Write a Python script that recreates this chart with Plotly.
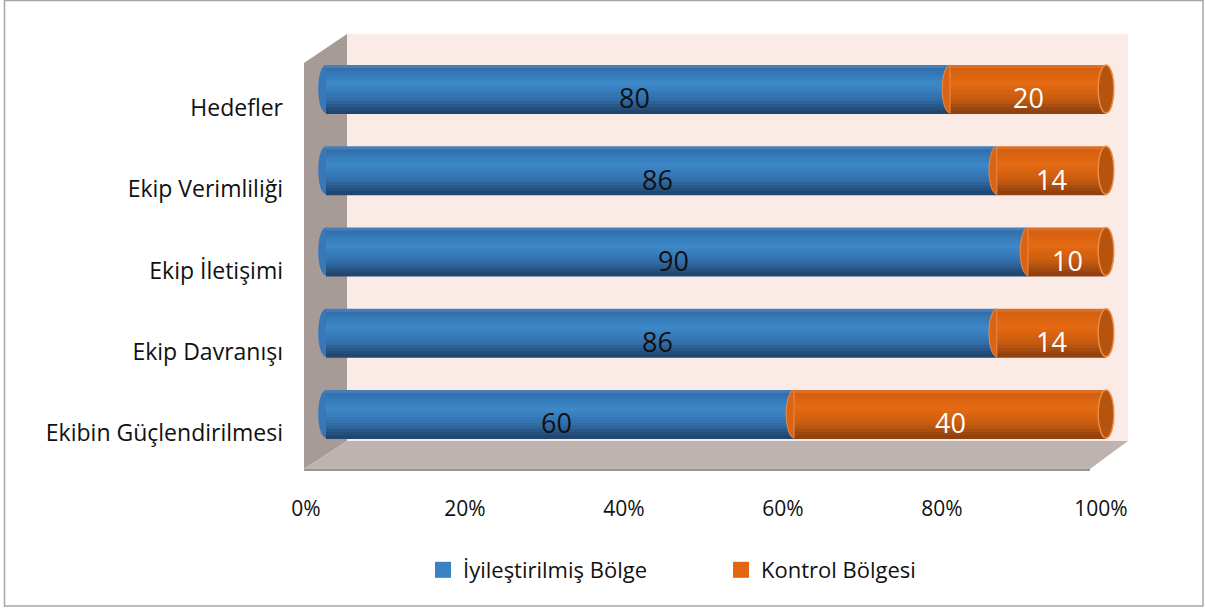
import plotly.graph_objects as go

# Survey results per dimension (percent)
categories = ["Hedefler", "Ekip Verimliliği", "Ekip İletişimi", "Ekip Davranışı", "Ekibin Güçlendirilmesi"]
improved = [80, 86, 90, 86, 60]
control = [20, 14, 10, 14, 40]
series_names = ["İyileştirilmiş Bölge", "Kontrol Bölgesi"]
x_ticks = [0, 20, 40, 60, 80, 100]
x_ticklabels = ["0%", "20%", "40%", "60%", "80%", "100%"]

W, H = 1205, 610
FONT = "Open Sans"

# Colour profiles across the cylinder (top -> bottom)
blue_profile = [(0.0, (92, 147, 201)), (0.06, (47, 109, 170)), (0.38, (62, 137, 202)),
                (0.7, (50, 112, 172)), (0.9, (37, 80, 126)), (1.0, (31, 66, 104))]
orange_profile = [(0.0, (233, 128, 64)), (0.06, (209, 96, 15)), (0.38, (229, 106, 18)),
                  (0.7, (200, 92, 16)), (0.9, (158, 72, 16)), (1.0, (138, 62, 14))]


def px_x(p):
    return p / W


def px_y(p):
    return 1 - p / H


def shade(profile, t):
    for (t0, c0), (t1, c1) in zip(profile, profile[1:]):
        if t0 <= t <= t1:
            f = (t - t0) / (t1 - t0) if t1 > t0 else 0
            c = [round(a + (b - a) * f) for a, b in zip(c0, c1)]
            return "rgb(%d,%d,%d)" % tuple(c)
    return "rgb(%d,%d,%d)" % profile[-1][1]


ypos = list(range(len(categories)))
bar_w = 0.59
n_bands = 16
band = bar_w / n_bands

fig = go.Figure()

bases_orange = improved[:]
for values, bases, profile in [(improved, [0] * len(improved), blue_profile),
                               (control, bases_orange, orange_profile)]:
    for i in range(n_bands):
        t = (i + 0.5) / n_bands
        fig.add_trace(go.Bar(
            orientation="h", y=ypos, x=values, base=bases,
            width=band * 1.35, offset=-bar_w / 2 + i * band,
            marker=dict(color=shade(profile, t), line=dict(width=0)),
            showlegend=False, hoverinfo="skip",
        ))

# Legend entries
for name, col in zip(series_names, ["#3A80C2", "#E2650F"]):
    fig.add_trace(go.Scatter(
        x=[None], y=[None], mode="markers", name=name, xaxis="x2", yaxis="y2",
        marker=dict(symbol="square", size=16, color=col, line=dict(width=0)),
    ))

# Axis used only for category labels
fig.add_trace(go.Scatter(x=[None], y=[None], xaxis="x2", yaxis="y2",
                         showlegend=False, hoverinfo="skip"))

shapes = []
# Back wall, left wall, floor
shapes.append(dict(type="rect", xref="paper", yref="paper",
                   x0=px_x(347), x1=px_x(1128), y0=px_y(441), y1=px_y(34),
                   fillcolor="#FBEBE7", line=dict(width=0), layer="below"))
shapes.append(dict(type="path", xref="paper", yref="paper",
                   path="M %f,%f L %f,%f L %f,%f L %f,%f Z" % (
                       px_x(304), px_y(63), px_x(347), px_y(34),
                       px_x(347), px_y(441), px_x(304), px_y(469)),
                   fillcolor="#A69B97", line=dict(width=0), layer="below"))
shapes.append(dict(type="path", xref="paper", yref="paper",
                   path="M %f,%f L %f,%f L %f,%f L %f,%f Z" % (
                       px_x(304), px_y(469), px_x(347), px_y(441),
                       px_x(1128), px_y(441), px_x(1090), px_y(469)),
                   fillcolor="#BDB3B0", line=dict(width=0), layer="below"))
shapes.append(dict(type="line", xref="paper", yref="paper",
                   x0=px_x(304), x1=px_x(1090), y0=px_y(470), y1=px_y(470),
                   line=dict(color="#9A9592", width=2), layer="below"))

# Cylinder caps
rx = 1.0
ry = bar_w / 2
k = 0.5523


def left_half(cx, cy):
    return ("M %f,%f C %f,%f %f,%f %f,%f C %f,%f %f,%f %f,%f Z" % (
        cx, cy - ry, cx - k * rx, cy - ry, cx - rx, cy - k * ry, cx - rx, cy,
        cx - rx, cy + k * ry, cx - k * rx, cy + ry, cx, cy + ry))


for yi, b, c in zip(ypos, improved, control):
    # rounded start of the blue cylinder
    shapes.append(dict(type="path", xref="x", yref="y", path=left_half(0, yi),
                       fillcolor="#3877B8", line=dict(width=0), layer="above"))
    # face of the orange segment where it meets the blue one
    shapes.append(dict(type="path", xref="x", yref="y", path=left_half(b, yi),
                       fillcolor="#DA6413", line=dict(color="#EE8A45", width=1), layer="above"))
    # end face of the cylinder
    end = b + c
    shapes.append(dict(type="circle", xref="x", yref="y",
                       x0=end - rx, x1=end + rx, y0=yi - ry, y1=yi + ry,
                       fillcolor="#B5540F", line=dict(color="#F08A40", width=1.5), layer="above"))

# Outer frame
shapes.append(dict(type="rect", xref="paper", yref="paper",
                   x0=px_x(4.5), x1=px_x(1203), y0=px_y(606), y1=px_y(0.5),
                   line=dict(color="#A6A6A6", width=1.5), fillcolor="rgba(0,0,0,0)"))

annotations = []
for yi, b, c in zip(ypos, improved, control):
    annotations.append(dict(x=b / 2, y=yi, xref="x", yref="y", text=str(b), showarrow=False,
                            xshift=-4, yshift=-9, font=dict(family=FONT, size=27, color="#111111")))
    annotations.append(dict(x=b + c / 2, y=yi, xref="x", yref="y", text=str(c), showarrow=False,
                            yshift=-9, font=dict(family=FONT, size=27, color="#FFFFFF")))

ppu = 7.8          # pixels per percent
x0px = 326         # pixel position of 0 %
xr = [-2, 102]
ytop, ybot = 89 - 0.5 * 81.25, 414 + 0.5 * 81.25
shift = 19

fig.update_layout(
    width=W, height=H,
    margin=dict(l=0, r=0, t=0, b=0, autoexpand=False),
    paper_bgcolor="white", plot_bgcolor="rgba(0,0,0,0)",
    barmode="overlay",
    font=dict(family=FONT, color="#111111"),
    xaxis=dict(domain=[px_x(x0px + xr[0] * ppu), px_x(x0px + xr[1] * ppu)], range=xr,
               visible=False, fixedrange=True),
    yaxis=dict(domain=[px_y(ybot), px_y(ytop)], range=[4.5, -0.5],
               visible=False, fixedrange=True),
    xaxis2=dict(domain=[px_x(306), px_x(1101)], range=[0, 100], anchor="free",
                position=px_y(494), tickvals=x_ticks, ticktext=x_ticklabels,
                showgrid=False, zeroline=False, showline=False, ticks="",
                tickfont=dict(size=21, family=FONT, color="#111111")),
    yaxis2=dict(domain=[px_y(ybot + shift), px_y(ytop + shift)], range=[4.5, -0.5],
                anchor="free", position=px_x(283), tickvals=ypos, ticktext=categories,
                showgrid=False, zeroline=False, showline=False, ticks="",
                tickfont=dict(size=23, family=FONT, color="#111111")),
    legend=dict(orientation="h", x=px_x(423), y=px_y(570), yanchor="middle", xanchor="left",
                entrywidth=253, itemsizing="trace", itemwidth=30,
                font=dict(size=22, family=FONT, color="#111111"), bgcolor="rgba(0,0,0,0)"),
    shapes=shapes,
    annotations=annotations,
    showlegend=True,
)

fig.write_html("out.html")
